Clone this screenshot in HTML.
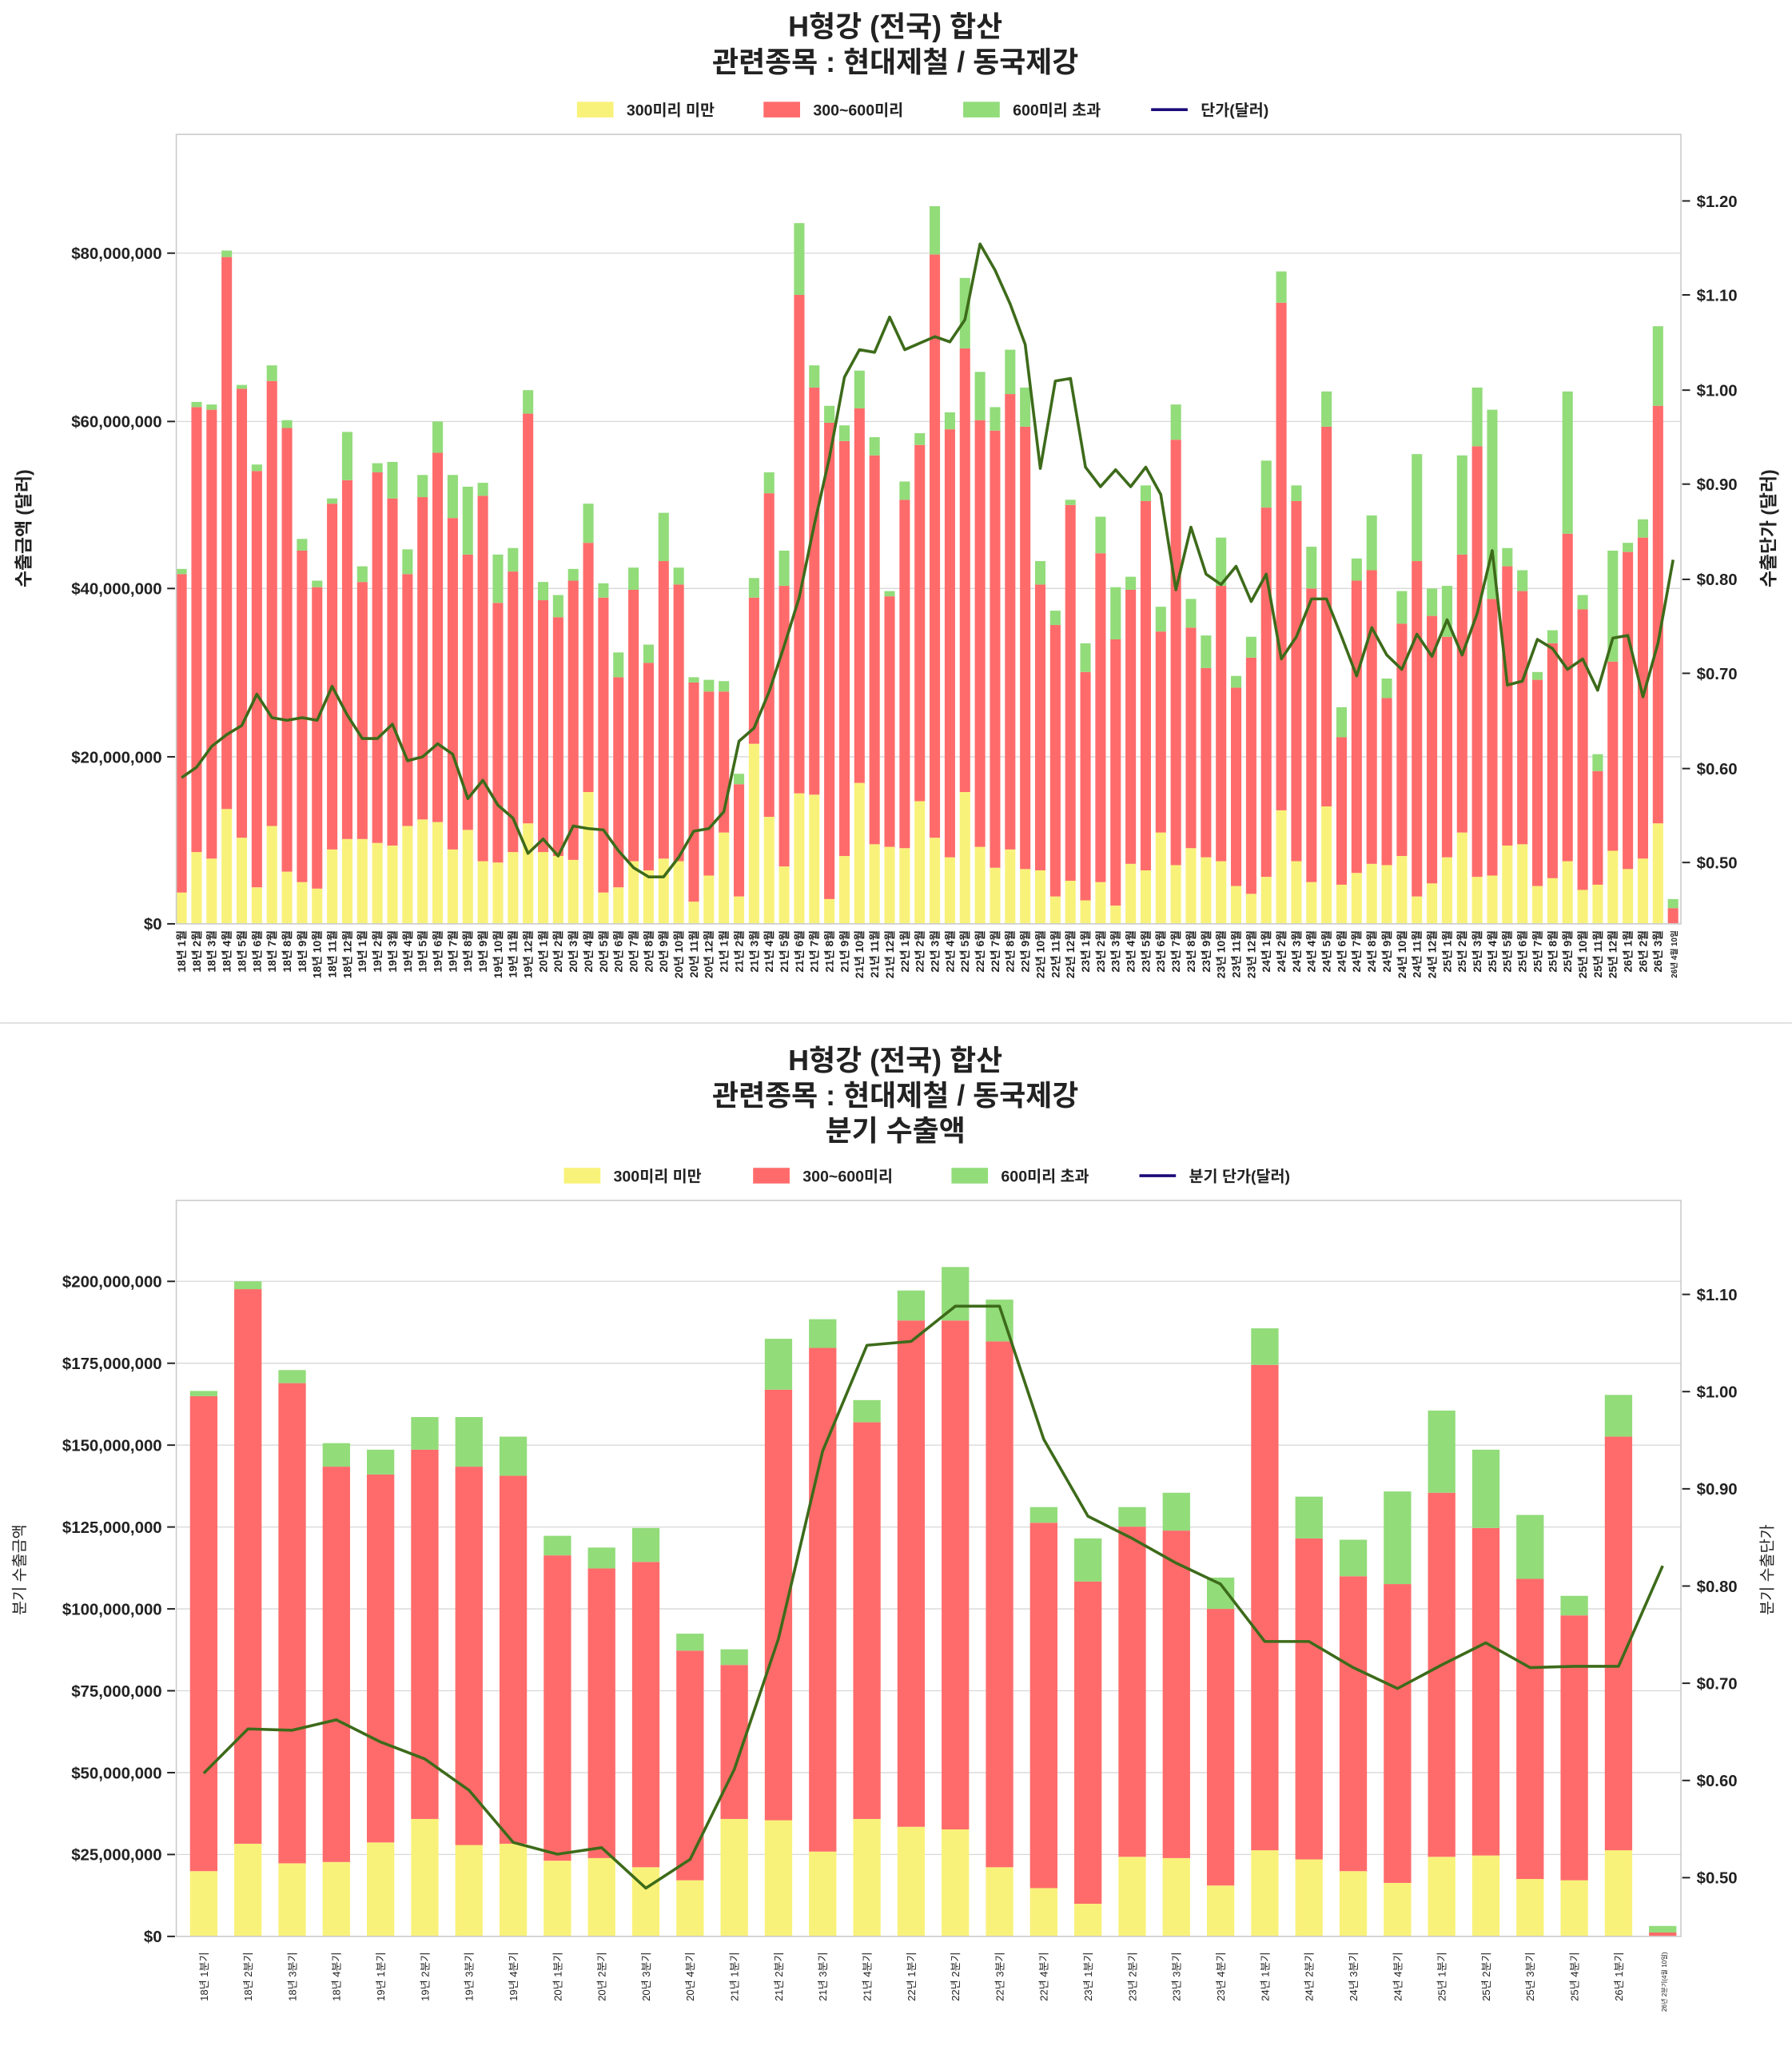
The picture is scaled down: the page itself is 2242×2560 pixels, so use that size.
<!DOCTYPE html>
<html><head><meta charset="utf-8"><style>
html,body{margin:0;padding:0;background:#fff;}
svg{display:block;font-family:"Liberation Sans","Noto Sans CJK KR",sans-serif;}
</style></head><body>
<svg id="s" width="2242" height="2560" viewBox="0 0 1373 1568" xmlns="http://www.w3.org/2000/svg"></svg>
<script>
const S=document.getElementById('s');let h='';
const Y='#f9f27a',R='#ff6b6b',G='#92dc7a',L='#3d6b1a';
function t(x,y,s,o){o=o||{};h+=`<text x="${x}" y="${y}" font-size="${o.fs||12}" font-weight="${o.w||'normal'}" text-anchor="${o.a||'start'}" fill="#222"${o.tr?` transform="${o.tr}"`:''}>${s}</text>`;}
function r(x,y,w,hh,c){if(hh>0)h+=`<rect x="${x}" y="${y}" width="${w}" height="${hh}" fill="${c}"/>`;}
function ln(x1,y1,x2,y2,c,w){h+=`<line x1="${x1}" y1="${y1}" x2="${x2}" y2="${y2}" stroke="${c}" stroke-width="${w}"/>`;}
function legend(y,xs,labs){const cs=[Y,R,G];for(let i=0;i<3;i++){r(xs[i],y-6,28,12,cs[i]);t(xs[i]+38,y+4.5,labs[i],{fs:12,w:'bold'});}ln(xs[3],y,xs[3]+28,y,'#1a0a7a',2.2);t(xs[3]+38,y+4.5,labs[3],{fs:12,w:'bold'});}
// ===== TOP =====
t(686,28,'H형강 (전국) 합산',{fs:22,w:'bold',a:'middle'});
t(686,55,'관련종목 : 현대제철 / 동국제강',{fs:22,w:'bold',a:'middle'});
legend(84,[442,585,738,882],['300미리 미만','300~600미리','600미리 초과','단가(달러)']);
const gy=[708,580,451,323,194],gl=['$0','$20,000,000','$40,000,000','$60,000,000','$80,000,000'];
gy.forEach((y,i)=>{if(i>0)ln(135,y,1288,y,'#d8d8d8',0.8);ln(128,y,134,y,'#222',1.2);t(124,y+4.5,gl[i],{fs:12.5,w:'bold',a:'end'});});
const ry=[661,589,516,444,371,299,226,154],rl=['$0.50','$0.60','$0.70','$0.80','$0.90','$1.00','$1.10','$1.20'];
ry.forEach((y,i)=>{ln(1289,y,1295,y,'#222',1.2);t(1300,y+4.5,rl[i],{fs:12.5,w:'bold'});});
t(0,0,'수출금액 (달러)',{fs:14,w:'bold',a:'middle',tr:'translate(23,405) rotate(-90)'});
t(0,0,'수출단가 (달러)',{fs:14,w:'bold',a:'middle',tr:'translate(1360,405) rotate(-90)'});
const D=[[684,440,436],[653,312,308],[658,314,310],[620,197,192],[642,298,295],[680,361,356],[633,292,280],[668,328,322],[676,422,413],[681,450,445],[651,386,382],[643,368,331],[643,446,434],[646,362,355],[648,382,354],[633,440,421],[628,381,364],[630,347,323],[651,397,364],[636,425,373],[660,380,370],[661,462,425],[653,438,420],[631,317,299],[653,460,446],[656,473,456],[659,445,436],[607,416,386],[684,458,447],[680,519,500],[660,452,435],[667,508,494],[658,430,393],[660,448,435],[691,523,519],[671,530,521],[638,530,522],[687,601,593],[570,458,443],[626,378,362],[664,449,422],[608,226,171],[609,297,280],[689,324,311],[656,338,326],[600,313,284],[647,349,335],[649,457,453],[650,383,369],[614,341,332],[642,195,158],[657,329,316],[607,267,213],[649,322,285],[665,330,312],[651,302,268],[666,327,297],[667,448,430],[687,479,468],[675,387,383],[690,515,493],[676,424,396],[694,490,450],[662,452,442],[667,384,372],[638,484,465],[663,337,310],[650,481,459],[657,512,487],[660,449,412],[679,527,518],[685,504,488],[672,389,353],[621,232,208],[660,384,372],[676,451,419],[618,327,300],[678,565,542],[669,445,428],[662,437,395],[663,535,520],[656,478,453],[687,430,348],[677,472,451],[657,488,449],[638,425,349],[672,342,297],[671,459,314],[648,434,420],[647,453,437],[679,521,515],[673,493,483],[660,409,300],[682,467,456],[678,591,578],[652,507,422],[666,423,416],[658,412,398],[631,311,250],[708,696,689]];
const LN=[596,588,572,563,556,532,550,552,550,552,526,548,566,566,555,583,580,570,578,612,598,617,627,654,643,656,633,635,636,652,665,672,672,657,637,635,622,568,558,530,495,458,402,351,289,268,270,243,268,263,258,262,245,187,207,233,264,359,292,290,358,373,360,373,358,379,452,404,440,448,434,461,440,505,488,459,459,488,518,481,502,513,486,503,475,502,470,422,525,522,490,497,513,505,529,489,487,534,493,429];
const mon=[];for(let yy=18;yy<=26;yy++)for(let m=1;m<=12;m++){if(yy==26&&m>3)break;mon.push(yy+'년 '+m+'월');}
mon.push('26년 4월 10일');
let pts=[];
D.forEach((d,i)=>{const x=139+i*11.545,w=8;r(x-w/2,d[0],w,708-d[0],Y);r(x-w/2,d[1],w,d[0]-d[1],R);r(x-w/2,d[2],w,d[1]-d[2],G);if(i<99||true)pts.push(x.toFixed(1)+','+LN[i]);
t(0,0,mon[i],{fs:i==99?6:8.5,w:'bold',a:'end',tr:`translate(${x+3},713) rotate(-90)`});});
h+=`<polyline points="${pts.join(' ')}" fill="none" stroke="${L}" stroke-width="2.2" stroke-linejoin="round"/>`;
h+=`<rect x="135" y="103" width="1153" height="605" fill="none" stroke="#ccc" stroke-width="1"/>`;
ln(0,784,1373,784,'#ddd',1);
// ===== BOTTOM =====
t(686,820,'H형강 (전국) 합산',{fs:22,w:'bold',a:'middle'});
t(686,847,'관련종목 : 현대제철 / 동국제강',{fs:22,w:'bold',a:'middle'});
t(686,874,'분기 수출액',{fs:22,w:'bold',a:'middle'});
legend(901,[432,577,729,873],['300미리 미만','300~600미리','600미리 초과','분기 단가(달러)']);
const by0=1484,bsp=62.75;
for(let i=0;i<=8;i++){const y=by0-i*bsp;if(i>0)ln(135,y,1288,y,'#d8d8d8',0.8);ln(128,y,134,y,'#222',1.2);t(124,y+4.5,'$'+(i*25000000).toLocaleString('en-US'),{fs:12.5,w:'bold',a:'end'});}
for(let i=0;i<7;i++){const y=1439-i*74.5;ln(1289,y,1295,y,'#222',1.2);t(1300,y+4.5,'$'+(0.5+i*0.1).toFixed(2),{fs:12.5,w:'bold'});}
t(0,0,'분기 수출금액',{fs:12,a:'middle',tr:'translate(19,1203) rotate(-90)'});
t(0,0,'분기 수출단가',{fs:12,a:'middle',tr:'translate(1358,1203) rotate(-90)'});
const Q=[[1434,1070,1066],[1413,988,982],[1428,1060,1050],[1427,1124,1106],[1412,1130,1111],[1394,1111,1086],[1414,1124,1086],[1413,1131,1101],[1426,1192,1177],[1424,1202,1186],[1431,1197,1171],[1441,1265,1252],[1394,1276,1264],[1395,1065,1026],[1419,1033,1011],[1394,1090,1073],[1400,1012,989],[1402,1012,971],[1431,1028,996],[1447,1167,1155],[1459,1212,1179],[1423,1170,1155],[1424,1173,1144],[1445,1233,1209],[1418,1046,1018],[1425,1179,1147],[1434,1208,1180],[1443,1214,1143],[1423,1144,1081],[1422,1171,1111],[1440,1210,1161],[1441,1238,1223],[1418,1101,1069],[1484,1481,1476]];
const QL=[1359,1325,1326,1318,1335,1348,1372,1412,1421,1416,1447,1425,1356,1256,1112,1031,1028,1001,1001,1103,1162,1179,1198,1214,1258,1258,1278,1294,1276,1259,1278,1277,1277,1200];
pts=[];
Q.forEach((d,i)=>{const x=156+i*33.88,w=21;r(x-w/2,d[0],w,1484-d[0],Y);r(x-w/2,d[1],w,d[0]-d[1],R);r(x-w/2,d[2],w,d[1]-d[2],G);pts.push(x.toFixed(1)+','+QL[i]);
const yy=18+Math.floor(i/4),q=i%4+1;const lab=i==33?'26년 2분기(4월 10일)':yy+'년 '+q+'분기';
t(0,0,lab,{fs:i==33?5:8,a:'end',tr:`translate(${x+3},1496) rotate(-90)`});});
h+=`<polyline points="${pts.join(' ')}" fill="none" stroke="${L}" stroke-width="2.2" stroke-linejoin="round"/>`;
h+=`<rect x="135" y="920" width="1153" height="564" fill="none" stroke="#ccc" stroke-width="1"/>`;
S.innerHTML=h;
</script>
</body></html>
